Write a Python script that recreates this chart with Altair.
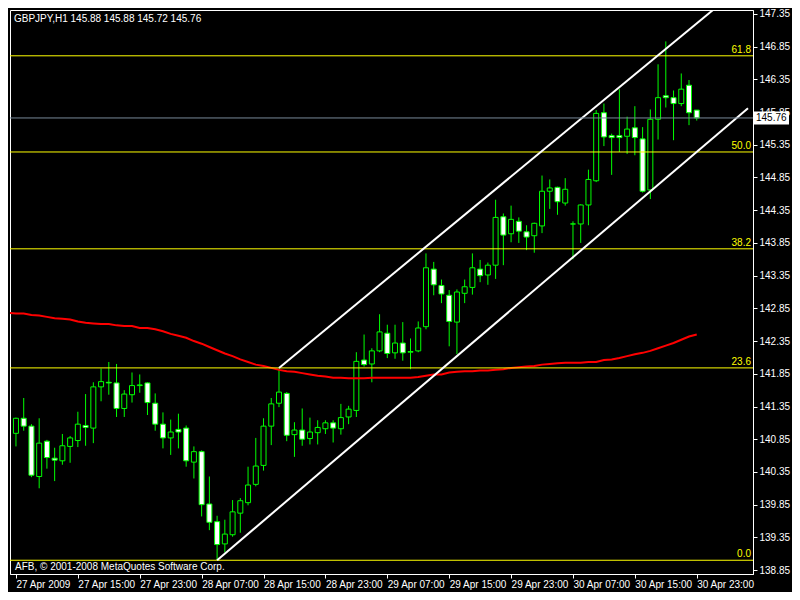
import json
import altair as alt
import pandas as pd

# ---------------- data ----------------
symbol_title = "GBPJPY,H1  145.88 145.88 145.72 145.76"
copyright_text = "AFB, \u00a9 2001-2008 MetaQuotes Software Corp."

opens = [140.94, 141.17, 141.05, 140.28, 140.82, 140.56, 140.52, 140.74, 140.83, 141.06,
         141.02, 141.65, 141.72, 141.71, 141.32, 141.53, 141.67, 141.71, 141.40, 141.08,
         140.87, 141.00, 141.02, 140.50, 140.66, 139.86, 139.59, 139.25, 139.39, 139.72,
         139.88, 140.16, 140.45, 141.05, 141.40, 141.55, 140.92, 140.99, 140.86, 140.95,
         141.01, 141.10, 141.01, 141.19, 141.29, 142.06, 142.00, 142.20, 142.47, 142.17,
         142.32, 142.18, 142.20, 142.57, 143.45, 143.20, 143.05, 142.64, 143.08, 143.17,
         143.45, 143.36, 143.51, 144.25, 143.99, 144.18, 144.02, 143.96, 144.11, 144.64,
         144.70, 144.46, 144.14, 144.14, 144.43, 144.80, 145.84, 145.49, 145.49, 145.48,
         145.61, 145.44, 144.66, 145.74, 146.10, 146.07, 145.98, 146.26, 145.88]
highs = [141.18, 141.48, 141.08, 141.17, 140.84, 140.72, 140.93, 140.90, 141.27, 141.54,
         141.72, 141.93, 142.03, 142.00, 141.60, 141.87, 141.84, 141.72, 141.55, 141.26,
         141.15, 141.24, 141.06, 140.74, 140.68, 140.28, 139.68, 139.62, 139.92, 139.95,
         140.43, 140.87, 141.17, 141.48, 141.93, 141.57, 141.11, 141.32, 141.18, 141.14,
         141.14, 141.14, 141.39, 141.36, 142.18, 142.45, 142.24, 142.76, 142.60, 142.60,
         142.64, 142.39, 142.65, 143.69, 143.56, 143.29, 143.13, 143.14, 143.29, 143.69,
         143.59, 143.55, 144.51, 144.30, 144.42, 144.24, 144.12, 144.16, 144.88, 144.82,
         144.71, 144.84, 144.18, 144.44, 144.97, 145.88, 145.98, 145.52, 146.20, 145.78,
         145.94, 145.62, 145.89, 146.58, 146.93, 146.18, 146.44, 146.34, 145.88]
lows = [140.74, 140.98, 140.27, 140.10, 140.40, 140.21, 140.46, 140.49, 140.73, 140.75,
        140.79, 141.43, 141.53, 141.19, 141.19, 141.41, 141.56, 141.22, 140.98, 140.71,
        140.61, 140.71, 140.43, 140.25, 139.67, 139.46, 139.00, 139.12, 139.36, 139.42,
        139.84, 140.13, 140.37, 140.76, 141.34, 140.82, 140.58, 140.75, 140.77, 140.77,
        140.93, 140.80, 140.92, 141.08, 141.19, 141.96, 141.72, 142.18, 142.09, 142.08,
        142.05, 141.92, 142.18, 142.53, 143.05, 142.93, 142.27, 142.15, 142.93, 143.06,
        143.25, 143.21, 143.30, 143.51, 143.86, 143.85, 143.74, 143.70, 144.00, 144.37,
        144.28, 144.42, 143.60, 143.85, 144.12, 144.78, 145.33, 144.89, 145.24, 145.21,
        145.19, 144.62, 144.52, 145.43, 145.92, 145.42, 145.94, 145.65, 145.72]
closes = [141.17, 141.05, 140.30, 140.79, 140.57, 140.53, 140.75, 140.87, 141.08, 141.03,
          141.65, 141.73, 141.71, 141.32, 141.54, 141.67, 141.68, 141.41, 141.08, 140.87,
          140.96, 140.96, 140.52, 140.66, 139.85, 139.58, 139.24, 139.40, 139.74, 139.91,
          140.15, 140.44, 141.05, 141.39, 141.57, 140.91, 140.99, 140.85, 140.96, 141.03,
          141.10, 141.02, 141.18, 141.31, 142.04, 141.99, 142.20, 142.49, 142.16, 142.32,
          142.17, 142.19, 142.55, 143.47, 143.21, 143.07, 142.65, 143.10, 143.18, 143.47,
          143.35, 143.51, 144.24, 143.97, 144.21, 144.03, 143.94, 144.15, 144.64, 144.69,
          144.48, 144.67, 144.14, 144.43, 144.82, 145.83, 145.47, 145.46, 145.46, 145.59,
          145.46, 144.64, 145.74, 146.07, 146.07, 145.98, 146.20, 145.84, 145.76]

# moving average (red), one value per bar starting one bar before the first candle
ma_start_bar = -1
ma_values = [142.78,
             142.77, 142.77, 142.75, 142.74, 142.72, 142.70, 142.69, 142.68, 142.65, 142.63,
             142.62, 142.61, 142.61, 142.59, 142.58, 142.58, 142.55, 142.55, 142.53, 142.50,
             142.46, 142.43, 142.40, 142.35, 142.31, 142.26, 142.21, 142.16, 142.12, 142.07,
             142.03, 141.99, 141.97, 141.94, 141.91, 141.89, 141.88, 141.86, 141.84, 141.82,
             141.81, 141.79, 141.79, 141.78, 141.78, 141.78, 141.79, 141.79, 141.79, 141.79,
             141.79, 141.79, 141.80, 141.82, 141.84, 141.84, 141.87, 141.88, 141.89, 141.89,
             141.90, 141.90, 141.91, 141.92, 141.94, 141.95, 141.96, 141.97, 141.99, 142.00,
             142.01, 142.02, 142.02, 142.02, 142.03, 142.03, 142.06, 142.07, 142.09, 142.12,
             142.15, 142.17, 142.20, 142.24, 142.28, 142.32, 142.37, 142.42, 142.45]

fib_names = ["0.0", "23.6", "38.2", "50.0", "61.8"]
fib_levels = [139.00, 141.94, 143.76, 145.24, 146.71]

# equidistant channel lines: (bar, price) end points
channel_ids = ["upper", "upper", "lower", "lower"]
channel_bars = [34, 90.1, 26, 94.625]
channel_prices = [141.94, 147.41, 139.00, 145.91]

time_labels = ["27 Apr 2009", "27 Apr 15:00", "27 Apr 23:00", "28 Apr 07:00",
               "28 Apr 15:00", "28 Apr 23:00", "29 Apr 07:00", "29 Apr 15:00",
               "29 Apr 23:00", "30 Apr 07:00", "30 Apr 15:00", "30 Apr 23:00"]
time_tick_bars = [0, 8, 16, 24, 32, 40, 48, 56, 64, 72, 80, 88]
price_ticks = [138.85, 139.35, 139.85, 140.35, 140.85, 141.35, 141.85, 142.35,
               142.85, 143.35, 143.85, 144.35, 144.85, 145.35, 145.85, 146.35,
               146.85, 147.35]
bar_domain = [-0.125, 94.625]
price_domain = [138.79, 147.41]

# ---------------- chart ----------------
W, H = 743, 564
FONT = "Liberation Sans"
FS = 10
GREEN = "#00FF00"
YELLOW = "#FFFF00"

candles = pd.DataFrame({"bar": list(range(len(opens))), "open": opens, "high": highs,
                        "low": lows, "close": closes})
candles["bull"] = candles["close"] >= candles["open"]
ma_df = pd.DataFrame({"bar": list(range(ma_start_bar, ma_start_bar + len(ma_values))),
                      "ma": ma_values})
fib_df = pd.DataFrame({"level": fib_levels, "name": fib_names})
chan_df = pd.DataFrame({"line": channel_ids, "bar": channel_bars, "price": channel_prices})
last_df = pd.DataFrame({"price": [closes[-1]], "label": [f"{closes[-1]:.2f}"]})
one = pd.DataFrame({"a": [0]})

xs = alt.Scale(domain=bar_domain, nice=False, zero=False)
ys = alt.Scale(domain=price_domain, nice=False, zero=False)

label_expr = json.dumps(time_labels) + "[round(datum.value / 8)]"
x_axis = alt.Axis(orient="bottom", values=time_tick_bars, labelExpr=label_expr,
                  labelAlign="left", labelBaseline="top", labelPadding=1,
                  labelFlush=False, labelOverlap=False, tickSize=4, tickColor="white",
                  domainColor="white", labelColor="white", labelFont=FONT,
                  labelFontSize=FS, grid=False, title=None)
y_axis = alt.Axis(orient="right", values=price_ticks, format=".2f", labelAlign="left",
                  labelBaseline="middle", labelPadding=2, labelFlush=False,
                  labelOverlap=False, tickSize=4, tickColor="white", domainColor="white",
                  labelColor="white", labelFont=FONT, labelFontSize=FS, grid=False,
                  title=None)


def X(field):
    return alt.X(field, scale=xs, axis=x_axis)


def Y(field):
    return alt.Y(field, scale=ys, axis=y_axis)


wicks = alt.Chart(candles).mark_rule(color=GREEN, strokeWidth=1).encode(
    x=X("bar:Q"), y=Y("low:Q"), y2="high:Q",
)
bodies = alt.Chart(candles).mark_bar(size=5, stroke=GREEN, strokeWidth=1).encode(
    x=X("bar:Q"), y=Y("open:Q"), y2="close:Q",
    fill=alt.condition("datum.bull", alt.value("black"), alt.value("white")),
)
ma_line = alt.Chart(ma_df).mark_line(color="#FF0000", strokeWidth=2, clip=True).encode(
    x=X("bar:Q"), y=Y("ma:Q"),
)
fib_lines = alt.Chart(fib_df).mark_rule(color=YELLOW, strokeWidth=1).encode(
    y=Y("level:Q"),
)
fib_text = alt.Chart(fib_df).mark_text(align="right", baseline="bottom", dy=-1,
                                       color=YELLOW, font=FONT, fontSize=FS).encode(
    x=alt.value(W - 2), y=Y("level:Q"), text="name:N",
)
channels = alt.Chart(chan_df).mark_line(color="white", strokeWidth=2, clip=True).encode(
    x=X("bar:Q"), y=Y("price:Q"), detail="line:N",
)
price_line = alt.Chart(last_df).mark_rule(color="#778899", strokeWidth=1).encode(
    y=Y("price:Q"),
)
price_box = alt.Chart(last_df).mark_rule(color="white", strokeWidth=13).encode(
    x=alt.value(W + 1), x2=alt.value(W + 36), y=Y("price:Q"),
)
price_label = alt.Chart(last_df).mark_text(align="left", baseline="middle", color="black",
                                           font=FONT, fontSize=FS).encode(
    x=alt.value(W + 3), y=Y("price:Q"), text="label:N",
)
title_text = alt.Chart(one).mark_text(align="left", baseline="middle", color="white",
                                      font=FONT, fontSize=FS).encode(
    x=alt.value(4), y=alt.value(9), text=alt.value(symbol_title),
)
copy_text = alt.Chart(one).mark_text(align="left", baseline="middle", color="white",
                                     font=FONT, fontSize=FS).encode(
    x=alt.value(5), y=alt.value(H - 7), text=alt.value(copyright_text),
)

chart = alt.layer(
    wicks, bodies, ma_line, fib_lines, fib_text, channels, price_line,
    price_box, price_label, title_text, copy_text,
).properties(
    width=W, height=H,
    background="black",
    padding={"left": 2, "top": 2, "right": 39, "bottom": 18},
    autosize=alt.AutoSizeParams(type="none"),
).configure_view(stroke="white", strokeWidth=1)

chart.save("out.html", embed_options={"renderer": "svg", "actions": False})
